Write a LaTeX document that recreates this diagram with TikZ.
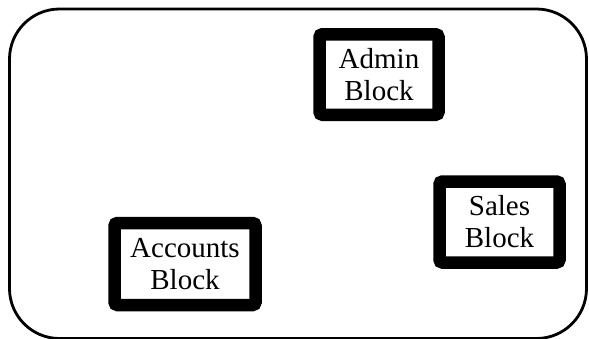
\documentclass[tikz,border=0pt]{standalone}
\usepackage{fontspec}
\setmainfont{Liberation Serif}
\usetikzlibrary{positioning}

\begin{document}
\begin{tikzpicture}[x=1pt,y=-1pt,
    block/.style={draw, line width=12.5pt, rounded corners=3pt, inner sep=0pt,
      align=center, font=\fontsize{29}{32}\selectfont}]
      \useasboundingbox (0,0) rectangle (589,338);
      \draw[line width=2.8pt, rounded corners=50pt] (9.5,9) rectangle (586.5,338.5);

      \node[block, minimum width=119pt, minimum height=80.5pt] (admin) at (379,74.5) {Admin\\Block};
      \node[block, minimum width=120pt, minimum height=81pt] (sales) at (499.5,222) {Sales\\Block};
      \node[block, minimum width=141pt, minimum height=82pt] (accounts) at (185,264) {Accounts\\Block};
    \end{tikzpicture}
\end{document}
